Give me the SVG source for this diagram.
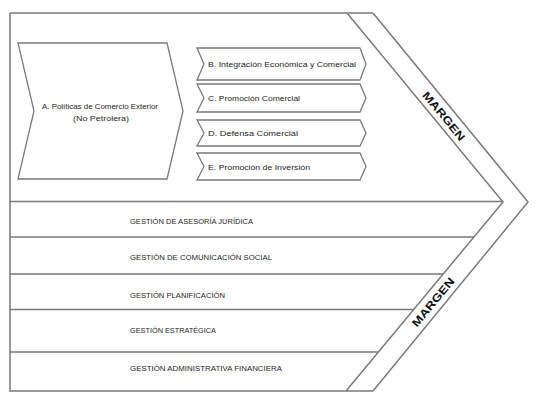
<svg xmlns="http://www.w3.org/2000/svg" width="550" height="409" viewBox="0 0 550 409">
<style>
.ln{fill:none;stroke:#7a7a7a;stroke-width:1.5;stroke-linejoin:miter}
.sh{fill:#ffffff;stroke:#7a7a7a;stroke-width:1.3}
.t{font-family:"Liberation Sans",Arial,sans-serif;font-size:7.5px;fill:#262626}
.g{font-family:"Liberation Sans",Arial,sans-serif;font-size:7px;fill:#262626}
.m{font-family:"Liberation Sans",Arial,sans-serif;font-size:11px;font-weight:bold;fill:#111111}
</style>
<rect x="0" y="0" width="550" height="409" fill="#ffffff"/>
<g id="frame">
<path class="ln" d="M10,13 H373 M10,13 V391 H373"/>
<path class="ln" d="M347,13 L503,202 L346,391 M373,13 L528,202 L373,391"/>
</g>
<g id="connectors">
<path class="ln" d="M10,201.5 H503 M10,237 H474 M10,274 H443 M10,309.5 H414 M10,352 H378"/>
</g>
<g id="nodeA">
<polygon class="sh" points="18,43 167,43 183,111 167,179 18,179 34,111"/>
<text class="t" x="100" y="109" text-anchor="middle" textLength="116" lengthAdjust="spacingAndGlyphs">A. Políticas de Comercio Exterior</text>
<text class="t" x="101" y="121" text-anchor="middle" textLength="56" lengthAdjust="spacingAndGlyphs">(No Petrolera)</text>
</g>
<g id="nodeB">
<polygon class="sh" points="197,48 360,48 366,64 360,80 197,80 204,64"/>
<text class="t" x="208" y="66.5" textLength="148" lengthAdjust="spacingAndGlyphs">B. Integración Económica y Comercial</text>
</g>
<g id="nodeC">
<polygon class="sh" points="197,84 360,84 366,98 360,112 197,112 204,98"/>
<text class="t" x="208" y="100.5" textLength="92" lengthAdjust="spacingAndGlyphs">C. Promoción Comercial</text>
</g>
<g id="nodeD">
<polygon class="sh" points="197,120 360,120 366,133 360,146 197,146 204,133"/>
<text class="t" x="208" y="135.5" textLength="90" lengthAdjust="spacingAndGlyphs">D. Defensa Comercial</text>
</g>
<g id="nodeE">
<polygon class="sh" points="197,153 360,153 366,166.5 360,180 197,180 204,166.5"/>
<text class="t" x="208" y="169.5" textLength="102" lengthAdjust="spacingAndGlyphs">E.  Promoción de Inversión</text>
</g>
<g id="row1"><text class="g" x="130" y="223.5" textLength="123" lengthAdjust="spacingAndGlyphs">GESTIÓN DE ASESORÍA JURÍDICA</text></g>
<g id="row2"><text class="g" x="130" y="259.5" textLength="142" lengthAdjust="spacingAndGlyphs">GESTIÓN DE COMUNICACIÓN SOCIAL</text></g>
<g id="row3"><text class="g" x="130" y="297.5" textLength="95" lengthAdjust="spacingAndGlyphs">GESTIÓN PLANIFICACIÓN</text></g>
<g id="row4"><text class="g" x="130" y="332.5" textLength="86" lengthAdjust="spacingAndGlyphs">GESTIÓN ESTRATÉGICA</text></g>
<g id="row5"><text class="g" x="130" y="370.5" textLength="152" lengthAdjust="spacingAndGlyphs">GESTIÓN ADMINISTRATIVA FINANCIERA</text></g>
<g id="margen1">
<text class="m" transform="translate(444,116) rotate(50.46)" x="0" y="4" text-anchor="middle" textLength="60" lengthAdjust="spacingAndGlyphs">MARGEN</text>
</g>
<g id="margen2">
<text class="m" transform="translate(433,302) rotate(-50.46)" x="0" y="4" text-anchor="middle" textLength="60" lengthAdjust="spacingAndGlyphs">MARGEN</text>
</g>
</svg>
